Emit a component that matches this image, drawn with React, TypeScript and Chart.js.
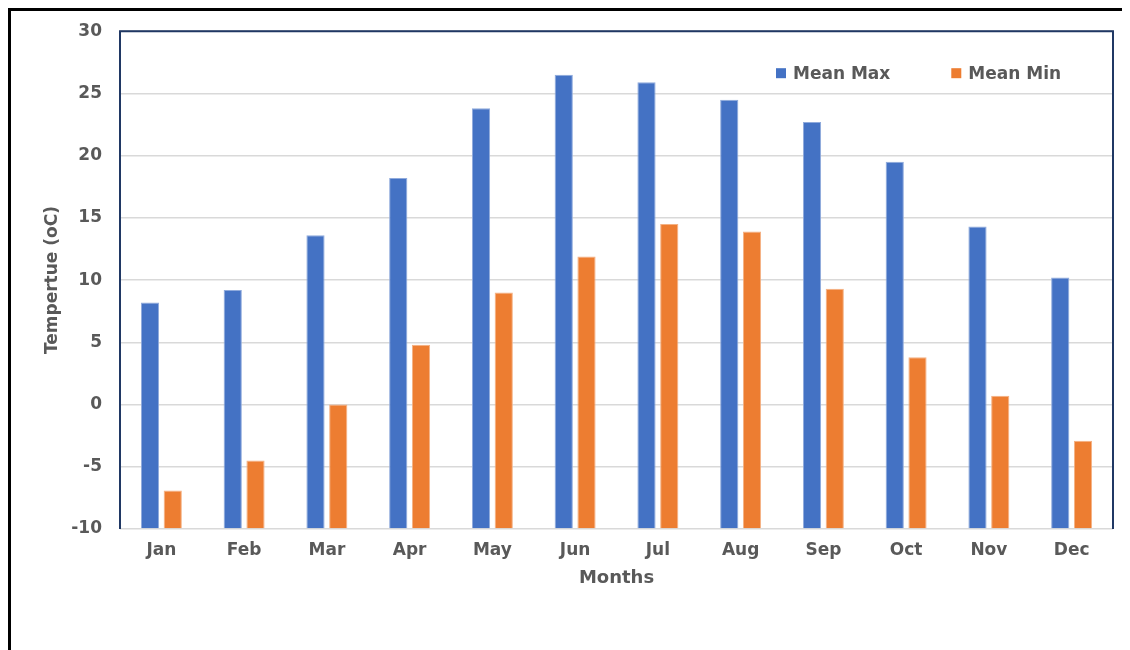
import React, { useEffect, useRef } from "react";
import { Chart, registerables } from "chart.js";

Chart.register(...registerables);

const months = ["Jan", "Feb", "Mar", "Apr", "May", "Jun", "Jul", "Aug", "Sep", "Oct", "Nov", "Dec"];
const meanMax = [8.2, 9.2, 13.6, 18.2, 23.8, 26.5, 25.9, 24.5, 22.7, 19.5, 14.3, 10.2];
const meanMin = [-6.9, -4.5, 0.0, 4.8, 9.0, 11.9, 14.5, 13.9, 9.3, 3.8, 0.7, -2.9];
const yMin = -10;
const yMax = 30;
const yStep = 5;

const FONT = "'DejaVu Sans', 'Liberation Sans', Arial, sans-serif";
const TEXT = "#595959";

const plotFrame = {
  id: "plotFrame",
  afterDatasetsDraw(chart: any) {
    const { ctx, chartArea } = chart;
    const { left, right, top, bottom } = chartArea;
    ctx.save();
    ctx.strokeStyle = "#203864";
    ctx.lineWidth = 2;
    ctx.beginPath();
    ctx.moveTo(left, bottom);
    ctx.lineTo(left, top);
    ctx.lineTo(right, top);
    ctx.lineTo(right, bottom);
    ctx.stroke();
    ctx.restore();
  },
};

const innerLegend = {
  id: "innerLegend",
  afterDraw(chart: any) {
    const { ctx, chartArea } = chart;
    ctx.save();
    ctx.font = `bold 17px ${FONT}`;
    ctx.textBaseline = "middle";
    ctx.textAlign = "left";
    let x = chartArea.left + 656;
    const y = chartArea.top + 42;
    chart.data.datasets.forEach((ds: any) => {
      ctx.fillStyle = ds.backgroundColor;
      ctx.fillRect(x, y - 5, 10, 10);
      ctx.fillStyle = TEXT;
      ctx.fillText(ds.label, x + 17, y + 1);
      x += 17 + ctx.measureText(ds.label).width + 61;
    });
    ctx.restore();
  },
};

export default function App() {
  const ref = useRef<HTMLCanvasElement>(null);
  useEffect(() => {
    if (!ref.current) return;
    const chart = new Chart(ref.current, {
      type: "bar",
      data: {
        labels: months,
        datasets: [
          {
            label: "Mean Max",
            data: meanMax,
            backgroundColor: "#4472C4",
            borderColor: "#8FAADC",
            borderWidth: 1,
            base: yMin,
            categoryPercentage: 0.55,
            barPercentage: 0.8,
          } as any,
          {
            label: "Mean Min",
            data: meanMin,
            backgroundColor: "#ED7D31",
            borderColor: "#F4B183",
            borderWidth: 1,
            base: yMin,
            categoryPercentage: 0.55,
            barPercentage: 0.8,
          } as any,
        ],
      },
      options: {
        animation: false,
        responsive: false,
        devicePixelRatio: 1,
        layout: { padding: { left: 0, top: 12, right: 17, bottom: 41 } },
        plugins: {
          legend: { display: false },
          tooltip: { enabled: false },
        },
        scales: {
          x: {
            grid: { display: false, drawTicks: false },
            border: { display: false },
            ticks: { color: TEXT, font: { family: FONT, size: 17, weight: "bold" }, padding: 11 },
            title: {
              display: true,
              text: "Months",
              color: TEXT,
              font: { family: FONT, size: 18, weight: "bold" },
              padding: { top: 0, bottom: 20 },
            },
            afterFit(scale: any) {
              scale.height = 80;
            },
          },
          y: {
            min: yMin,
            max: yMax,
            ticks: { stepSize: yStep, color: TEXT, font: { family: FONT, size: 17, weight: "bold" }, padding: 18 },
            grid: { color: "#D9D9D9", lineWidth: 1.5, drawTicks: false },
            border: { display: false },
            title: {
              display: true,
              text: "Tempertue (oC)",
              color: TEXT,
              font: { family: FONT, size: 17, weight: "bold" },
              padding: { top: 31, bottom: 0 },
            },
            afterFit(scale: any) {
              scale.width = 109;
            },
          },
        },
      },
      plugins: [plotFrame, innerLegend],
    });
    return () => chart.destroy();
  }, []);

  return (
    <div
      style={{
        position: "relative",
        width: 1122,
        height: 642,
        borderTop: "3px solid #000",
        borderLeft: "3px solid #000",
        boxSizing: "border-box",
        overflow: "hidden",
      }}
    >
      <canvas ref={ref} width={1119} height={647} style={{ position: "absolute", left: 0, top: -8, width: 1119, height: 647 }} />
    </div>
  );
}
